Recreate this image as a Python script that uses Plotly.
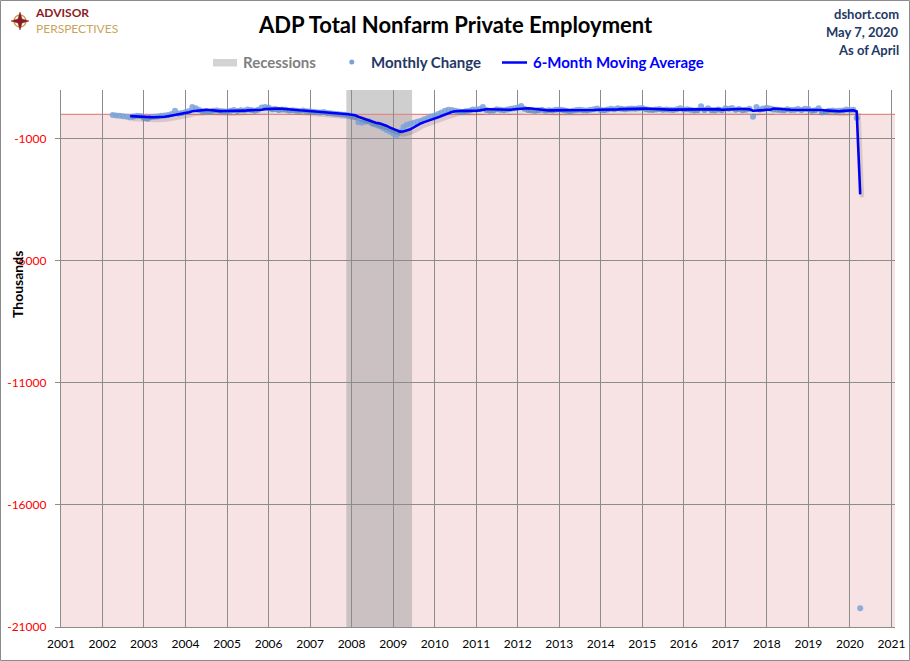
import pandas as pd
import plotly.graph_objects as go

# ---------------- data (thousands, monthly change, ADP private payrolls) ----------------
first_month = "2002-04-01"
y2002 = [-20, -40, -60, -80, -100, -130, -90, -60, -70]  # Apr-Dec
y2003 = [-150, -180, -120, -100, -90, -60, -40, -20, 20, 150, 40, 60]
y2004 = [100, 140, 300, 250, 180, 120, 130, 110, 150, 160, 140, 130]
y2005 = [120, 150, 180, 140, 170, 160, 200, 180, 150, 190, 280, 300]
y2006 = [280, 210, 220, 180, 200, 190, 160, 170, 150, 140, 160, 130]
y2007 = [130, 110, 90, 80, 100, 60, 50, 30, 20, 0, -10, -30]
y2008 = [-80, -120, -320, -340, -300, -280, -380, -420, -480, -560, -640, -700]
y2009 = [-780, -850, -700, -520, -420, -380, -340, -300, -260, -200, -150, -90]
y2010 = [-40, 20, 80, 150, 190, 180, 150, 120, 100, 130, 150, 200]
y2011 = [200, 220, 300, 180, 150, 160, 210, 190, 170, 200, 230, 250]
y2012 = [280, 340, 230, 180, 160, 140, 170, 190, 150, 170, 160, 190]
y2013 = [200, 180, 150, 130, 150, 180, 190, 170, 160, 190, 210, 240]
y2014 = [180, 170, 200, 230, 210, 250, 230, 210, 230, 240, 230, 250]
y2015 = [260, 210, 190, 180, 200, 220, 190, 200, 190, 180, 210, 250]
y2016 = [200, 210, 190, 160, 170, 330, 180, 250, 170, 160, 200, 170]
y2017 = [250, 230, 260, 190, 220, 170, 190, 230, -100, 300, 200, 240]
y2018 = [270, 240, 200, 190, 180, 170, 210, 180, 190, 220, 180, 230]
y2019 = [220, 150, 170, 250, 80, 110, 150, 160, 140, 150, 160, 200]
y2020 = [180, 190, -150, -20236]  # Jan-Apr

monthly_change = (y2002 + y2003 + y2004 + y2005 + y2006 + y2007 + y2008 + y2009 + y2010
                  + y2011 + y2012 + y2013 + y2014 + y2015 + y2016 + y2017 + y2018 + y2019 + y2020)

recession_start = ["2007-12-01"]
recession_end = ["2009-06-01"]

y_ticks = [-21000, -16000, -11000, -6000, -1000]
x_years = list(range(2001, 2022))

title_text = "ADP Total Nonfarm Private Employment"
source_lines = ["dshort.com", "May 7, 2020", "As of April"]

# ---------------- derived ----------------
months = pd.date_range(first_month, periods=len(monthly_change), freq="MS")
ma6 = pd.Series(monthly_change).rolling(6).mean()

W, H = 910, 661
ML, MR, MT, MB = 61, 15, 90, 34
PW, PH = W - ML - MR, H - MT - MB
x_range = [pd.Timestamp("2001-01-01"), pd.Timestamp("2021-02-01")]
y_range = [-21000, 1000]

def px(xp):
    return (xp - ML) / PW

def py(yp):
    return (H - MB - yp) / PH

FONT = "Lato"

fig = go.Figure()

# shadow of the moving average (offset axes)
days = (x_range[1] - x_range[0]).days
shift_days = pd.Timedelta(days=2.0 * days / PW)
shift_val = 3.0 * (y_range[1] - y_range[0]) / PH
fig.add_trace(go.Scatter(
    x=months, y=ma6, mode="lines", xaxis="x2", yaxis="y2",
    line=dict(color="rgba(0,0,0,0.12)", width=4), hoverinfo="skip", showlegend=False))

fig.add_trace(go.Scatter(
    x=months, y=monthly_change, mode="markers", name="Monthly Change",
    marker=dict(color="#7aa2d8", size=6, opacity=0.85, line=dict(width=0)),
    showlegend=False))

fig.add_trace(go.Scatter(
    x=months, y=ma6, mode="lines", name="6-Month Moving Average",
    line=dict(color="#0000ff", width=2.6), showlegend=False))

shapes = []
# negative-area shading
shapes.append(dict(type="rect", xref="paper", yref="y", x0=0, x1=1, y0=y_range[0], y1=0,
                   fillcolor="#f7e3e4", line=dict(width=0), layer="below"))
# recessions
for s, e in zip(recession_start, recession_end):
    shapes.append(dict(type="rect", xref="x", yref="paper",
                       x0=pd.Timestamp(s) - pd.Timedelta(days=15),
                       x1=pd.Timestamp(e) + pd.Timedelta(days=15),
                       y0=0, y1=1, fillcolor="rgba(160,160,160,0.5)",
                       line=dict(width=0), layer="below"))
# zero line
shapes.append(dict(type="line", xref="paper", yref="y", x0=0, x1=1, y0=0, y1=0,
                   line=dict(color="#e08a8a", width=1.3), layer="below"))
# outer border
shapes.append(dict(type="rect", xref="paper", yref="paper",
                   x0=px(0.5), x1=px(909.5), y0=py(660.5), y1=py(0.5),
                   line=dict(color="#8c8c8c", width=1), fillcolor="rgba(0,0,0,0)"))
# legend glyphs
shapes.append(dict(type="rect", xref="paper", yref="paper",
                   x0=px(213), x1=px(237), y0=py(66.5), y1=py(59),
                   fillcolor="#d3d3d3", line=dict(width=0)))
shapes.append(dict(type="circle", xref="paper", yref="paper",
                   x0=px(349.3), x1=px(354.3), y0=py(64.5), y1=py(59.5),
                   fillcolor="#7aa2d8", line=dict(width=0)))
shapes.append(dict(type="line", xref="paper", yref="paper",
                   x0=px(502), x1=px(527), y0=py(62.5), y1=py(62.5),
                   line=dict(color="#0000ff", width=2.5)))

# logo: compass rose
cx, cy = 20, 21
shapes.append(dict(type="circle", xref="paper", yref="paper",
                   x0=px(cx - 6), x1=px(cx + 6), y0=py(cy + 6), y1=py(cy - 6),
                   line=dict(color="#c9a55a", width=1.5), fillcolor="rgba(0,0,0,0)"))
star = [(cx, cy - 9), (cx + 2, cy - 2), (cx + 9, cy), (cx + 2, cy + 2),
        (cx, cy + 9), (cx - 2, cy + 2), (cx - 9, cy), (cx - 2, cy - 2)]
path = "M " + " L ".join(f"{px(a):.5f},{py(b):.5f}" for a, b in star) + " Z"
shapes.append(dict(type="path", xref="paper", yref="paper", path=path,
                   fillcolor="#8b1c24", line=dict(color="#8b1c24", width=0.5)))

annotations = []
annotations.append(dict(text="<b>" + title_text + "</b>", x=px(455), y=py(25), xref="paper",
                        yref="paper", showarrow=False, xanchor="center", yanchor="middle",
                        font=dict(family=FONT, size=22, color="#000000")))
for i, t in enumerate(source_lines):
    annotations.append(dict(text="<b>" + t + "</b>", x=px(901), y=py(14 + i * 18),
                            xref="paper", yref="paper", showarrow=False,
                            xanchor="right", yanchor="middle",
                            font=dict(family=FONT, size=13, color="#1f3864")))
annotations.append(dict(
    text='<span style="color:#8b1c24"><b>ADVISOR</b></span><br>'
         '<span style="color:#c9a55a">PERSPECTIVES</span>',
    x=px(33), y=py(21), xref="paper", yref="paper", align="left",
    showarrow=False, xanchor="left", yanchor="middle",
    font=dict(family=FONT, size=12, color="#8b1c24")))
annotations.append(dict(text="<b>Recessions</b>", x=px(241), y=py(62.5), xref="paper", yref="paper",
                        showarrow=False, xanchor="left", yanchor="middle",
                        font=dict(family=FONT, size=15, color="#7f7f7f")))
annotations.append(dict(text="<b>Monthly Change</b>", x=px(369), y=py(62.5), xref="paper", yref="paper",
                        showarrow=False, xanchor="left", yanchor="middle",
                        font=dict(family=FONT, size=15, color="#1f3864")))
annotations.append(dict(text="<b>6-Month Moving Average</b>", x=px(531), y=py(62.5), xref="paper",
                        yref="paper", showarrow=False, xanchor="left", yanchor="middle",
                        font=dict(family=FONT, size=15, color="#0000ff")))
annotations.append(dict(text="<b>Thousands</b>", x=px(17), y=py(285), xref="paper", yref="paper",
                        showarrow=False, xanchor="center", yanchor="middle", textangle=-90,
                        font=dict(family=FONT, size=14, color="#000000")))

fig.update_layout(
    width=W, height=H, autosize=False,
    margin=dict(l=ML, r=MR, t=MT, b=MB, pad=0, autoexpand=False),
    paper_bgcolor="#ffffff", plot_bgcolor="#ffffff",
    showlegend=False,
    shapes=shapes, annotations=annotations,
    xaxis=dict(type="date", range=x_range,
               tickvals=[pd.Timestamp(f"{yy}-01-01") for yy in x_years],
               ticktext=[str(yy) for yy in x_years],
               showgrid=True, gridcolor="#8c8c8c", gridwidth=1,
               showline=True, linecolor="#8c8c8c", linewidth=1,
               ticks="outside", ticklen=6, tickcolor="rgba(0,0,0,0)",
               tickfont=dict(family=FONT, size=12, color="#000000"),
               zeroline=False, fixedrange=True, automargin=False),
    yaxis=dict(range=y_range, tickvals=y_ticks,
               ticktext=[str(v) + "\u00a0\u00a0" for v in y_ticks],
               showgrid=True, gridcolor="#8c8c8c", gridwidth=1,
               showline=True, linecolor="#8c8c8c", linewidth=1,
               ticks="outside", ticklen=5, tickcolor="#8c8c8c",
               tickfont=dict(family=FONT, size=12, color="#ff0000"),
               zeroline=False, fixedrange=True, automargin=False),
    xaxis2=dict(type="date", overlaying="x", visible=False,
                range=[x_range[0] - shift_days, x_range[1] - shift_days]),
    yaxis2=dict(overlaying="y", visible=False,
                range=[y_range[0] + shift_val, y_range[1] + shift_val]),
)

fig.write_html("out.html")
